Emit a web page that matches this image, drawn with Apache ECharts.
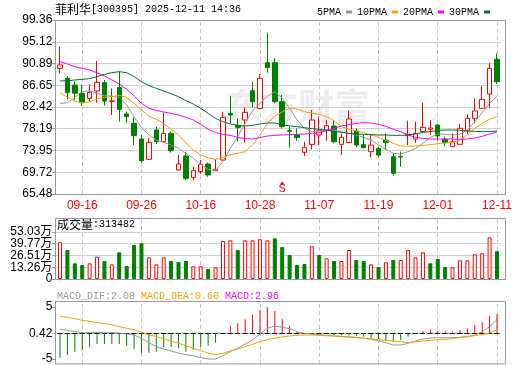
<!DOCTYPE html>
<html>
<head>
<meta charset="utf-8">
<title>菲利华 日K</title>
<script src="https://cdn.jsdelivr.net/npm/echarts@6.0.0/dist/echarts.min.js"></script>
<style>
html, body { margin: 0; padding: 0; background: #fff; }
#chart { width: 520px; height: 365px; }
</style>
</head>
<body>
<div id="chart"></div>
<script>
// trading days shown on the chart
const dates = [
  '09-11', '09-12', '09-15', '09-16', '09-17', '09-18', '09-19', '09-22', '09-23', '09-24',
  '09-25', '09-26', '09-29', '09-30', '10-09', '10-10', '10-13', '10-14', '10-15', '10-16',
  '10-17', '10-20', '10-21', '10-22', '10-23', '10-24', '10-27', '10-28', '10-29', '10-30',
  '10-31', '11-03', '11-04', '11-05', '11-06', '11-07', '11-10', '11-11', '11-12', '11-13',
  '11-14', '11-17', '11-18', '11-19', '11-20', '11-21', '11-24', '11-25', '11-26', '11-27',
  '11-28', '12-01', '12-02', '12-03', '12-04', '12-05', '12-08', '12-09', '12-10', '12-11'
]
const labelDates = ['09-16', '09-26', '10-16', '10-28', '11-07', '11-19', '12-01', '12-11']

const opens = [
  89.95, 88.00, 86.70, 85.08, 84.11, 85.53, 87.16, 83.50, 86.25, 81.06,
  79.24, 76.19, 72.23, 77.94, 75.67, 77.29, 70.15, 72.88, 68.72, 69.83,
  71.32, 70.02, 72.10, 81.19, 78.85, 79.89, 85.60, 82.16, 91.05, 91.05,
  83.46, 77.85, 76.97, 73.59, 75.15, 76.97, 77.94, 78.72, 75.15, 75.54,
  77.75, 75.09, 73.72, 74.37, 75.99, 72.75, 72.80, 76.84, 76.19, 77.62,
  78.07, 78.91, 76.12, 74.70, 75.15, 77.81, 80.21, 82.16, 84.95, 91.70
]
const closes = [
  90.60, 85.21, 85.10, 83.26, 85.27, 87.22, 83.59, 83.62, 81.96, 80.54,
  76.84, 71.97, 75.54, 75.67, 77.29, 73.92, 71.32, 68.53, 70.02, 71.26,
  69.18, 70.28, 80.41, 80.86, 78.46, 81.38, 83.46, 88.00, 90.08, 83.46,
  78.59, 77.70, 76.45, 74.57, 79.89, 77.81, 78.79, 75.67, 76.51, 80.08,
  75.02, 74.50, 75.02, 73.07, 75.47, 69.50, 72.68, 77.10, 77.29, 78.46,
  78.33, 76.77, 75.47, 75.67, 78.27, 80.21, 81.64, 83.91, 89.95, 87.35
]
const lows = [
  88.97, 83.91, 83.78, 82.61, 83.46, 83.26, 82.68, 80.86, 79.56, 79.24,
  75.02, 71.58, 72.10, 75.21, 75.54, 73.53, 70.02, 68.21, 68.08, 69.37,
  68.85, 70.02, 71.97, 79.24, 75.67, 75.47, 82.29, 81.96, 89.10, 83.13,
  78.27, 74.50, 75.86, 72.88, 74.18, 75.02, 75.86, 75.34, 73.07, 75.34,
  74.57, 74.37, 72.62, 72.62, 74.05, 69.05, 70.80, 75.02, 75.47, 77.42,
  76.97, 75.86, 74.83, 74.70, 75.02, 77.16, 79.24, 82.16, 82.16, 86.90
]
const highs = [
  94.17, 88.46, 87.35, 86.83, 86.83, 91.38, 87.68, 86.05, 89.30, 81.51,
  80.41, 76.97, 76.32, 78.59, 81.32, 77.62, 73.07, 73.72, 70.80, 72.10,
  71.58, 72.23, 81.51, 84.56, 80.21, 82.35, 87.35, 88.84, 96.89, 91.89,
  84.76, 78.59, 78.27, 75.67, 81.84, 80.54, 79.89, 79.89, 77.29, 81.71,
  78.27, 76.97, 76.97, 74.70, 77.29, 73.40, 73.72, 79.76, 79.56, 83.26,
  79.89, 79.11, 76.64, 77.29, 79.11, 80.99, 84.11, 86.51, 91.05, 92.87
]

const ma5 = [
  83.13, 83.26, 84.30, 85.40, 85.60, 85.08, 84.63, 84.56, 84.30, 82.81,
  80.54, 78.46, 76.97, 75.99, 75.54, 75.02, 74.37, 73.40, 72.42, 71.32,
  70.28, 70.02, 71.78, 74.37, 76.64, 79.24, 81.71, 83.13, 84.56, 85.40,
  84.11, 82.16, 79.89, 78.27, 77.62, 77.75, 77.94, 77.94, 77.62, 77.29,
  76.97, 76.51, 75.99, 75.02, 74.18, 73.40, 73.27, 73.72, 74.37, 75.35,
  76.51, 77.16, 77.10, 76.97, 77.10, 77.94, 79.56, 81.32, 83.13, 84.56
]
const ma10 = [
  85.21, 84.30, 83.59, 83.26, 83.39, 83.98, 84.30, 84.43, 84.69, 84.30,
  83.13, 81.84, 80.67, 80.02, 79.24, 78.07, 76.97, 75.47, 74.05, 73.07,
  72.55, 72.23, 72.62, 73.14, 73.40, 73.72, 75.02, 76.97, 79.24, 80.54,
  81.51, 82.16, 82.03, 81.51, 81.19, 80.99, 80.54, 79.76, 78.59, 78.14,
  77.75, 77.42, 76.97, 76.51, 75.93, 75.35, 74.83, 74.76, 74.83, 74.96,
  75.09, 75.28, 75.41, 75.54, 75.99, 76.97, 78.27, 79.24, 80.02, 80.54
]
const ma20 = [
  91.25, 90.79, 90.27, 89.95, 89.62, 89.10, 88.46, 87.68, 86.90, 85.86,
  84.56, 83.13, 82.16, 81.77, 81.45, 81.19, 80.86, 80.41, 79.89, 79.04,
  78.07, 77.42, 77.10, 76.90, 76.51, 76.25, 76.19, 76.45, 76.77, 76.90,
  76.97, 77.03, 77.10, 77.16, 77.29, 77.42, 77.81, 78.27, 78.72, 78.98,
  79.24, 79.37, 79.30, 79.04, 78.66, 78.07, 77.62, 76.97, 76.51, 76.32,
  76.19, 76.19, 76.19, 76.19, 76.12, 76.19, 76.38, 76.71, 77.16, 77.55
]
const ma30 = [
  87.48, 87.55, 87.68, 87.81, 87.94, 88.33, 88.78, 89.10, 89.30, 89.10,
  88.33, 87.35, 86.57, 86.05, 85.53, 85.02, 84.43, 83.65, 83.00, 82.16,
  81.19, 80.21, 79.56, 79.11, 78.85, 78.72, 78.85, 79.11, 79.30, 79.30,
  78.98, 78.72, 78.59, 78.40, 78.20, 78.07, 77.88, 77.68, 77.49, 77.29,
  77.16, 77.10, 77.03, 76.97, 76.97, 76.90, 76.90, 76.97, 77.16, 77.49,
  77.62, 77.88, 77.94, 77.94, 77.88, 77.75, 77.68, 77.62, 77.62, 77.75
]

// volume in 万
const volumes = [
  41.4, 32.7, 17.7, 15.8, 17.7, 25.2, 20.3, 16.5, 30.1, 14.7,
  38.4, 40.2, 24.4, 16.5, 24.4, 20.3, 19.2, 20.3, 14.3, 14.3,
  11.3, 13.2, 42.9, 43.6, 32.7, 43.6, 43.6, 44.8, 43.6, 45.9,
  36.1, 27.1, 15.8, 16.9, 36.9, 27.1, 23.3, 20.3, 20.3, 32.7,
  21.4, 20.3, 16.5, 13.5, 18.8, 21.4, 21.4, 32.7, 24.4, 30.1,
  17.7, 22.6, 13.5, 13.2, 21.1, 21.1, 27.8, 29.0, 47.0, 31.35
]

const dif = [
  0.62, 0.46, 0.26, 0.10, 0.10, 0.15, 0.10, 0.10, 0.05, -0.10,
  -0.26, -0.77, -1.44, -2.05, -2.41, -2.72, -3.03, -3.28, -3.49, -3.74,
  -3.95, -3.95, -3.44, -2.82, -2.31, -1.64, -1.03, -0.10, 0.77, 1.13,
  0.92, 0.72, 0.26, 0.00, -0.10, -0.21, -0.31, -0.41, -0.51, -0.56,
  -0.62, -0.77, -0.92, -1.13, -1.44, -1.79, -1.79, -1.54, -1.18, -0.87,
  -0.72, -0.67, -0.67, -0.67, -0.62, -0.51, -0.26, 0.26, 1.03, 2.08
]
const dea = [
  2.67, 2.46, 2.26, 2.00, 1.85, 1.64, 1.49, 1.33, 1.03, 0.77,
  0.56, 0.15, -0.21, -0.51, -0.82, -1.23, -1.54, -1.90, -2.31, -2.67,
  -3.03, -3.28, -3.08, -2.72, -2.41, -2.05, -1.69, -1.28, -0.97, -0.77,
  -0.56, -0.41, -0.31, -0.26, -0.26, -0.31, -0.36, -0.41, -0.46, -0.56,
  -0.67, -0.77, -0.82, -0.97, -1.08, -1.18, -1.28, -1.44, -1.28, -1.18,
  -1.08, -0.97, -0.92, -0.82, -0.67, -0.51, -0.36, -0.21, 0.05, 0.60
]
const macd = [
  -3.74, -3.33, -2.82, -2.56, -2.15, -1.64, -1.64, -1.64, -1.64, -1.95,
  -2.41, -3.08, -2.97, -2.82, -2.15, -2.15, -2.31, -2.82, -2.56, -2.05,
  -1.90, -1.44, 0.05, 1.18, 1.54, 2.15, 2.87, 3.59, 4.00, 3.44,
  2.21, 1.18, 0.26, -0.05, -0.08, -0.15, -0.15, -0.25, -0.30, -0.30,
  -0.40, -0.51, -0.77, -0.92, -1.13, -1.28, -1.03, -0.51, -0.08, 0.41,
  0.62, 0.41, 0.41, 0.26, 0.51, 0.77, 1.28, 1.69, 2.67, 2.96
]

// axis ticks
const priceTicks = [65.48, 69.72, 73.95, 78.19, 82.42, 86.65, 90.89, 95.12, 99.36]
const volTicks = [0, 13.26, 26.51, 39.77, 53.03]
const volTickLabels = ['0', '13.26万', '26.51万', '39.77万', '53.03万']
const macdTicks = [-3.95, 0, 4.05]
const macdTickLabels = ['-5', '0.42', '5']

const signalDate = '10-31'

const UP = '#ff0000'
const DOWN = '#008000'
const SANS = 'Liberation Sans, Noto Sans CJK SC, sans-serif'
const MONO = 'Liberation Mono, Noto Sans CJK SC, monospace'
const CJK = 'Noto Sans CJK SC, sans-serif'

const chart = echarts.init(document.getElementById('chart'))

const candles = dates.map((d, i) => [opens[i], closes[i], lows[i], highs[i]])
const volData = volumes.map((v, i) => {
  const up = i === 0 || closes[i] >= closes[i - 1]
  return {
    value: v,
    itemStyle: up
      ? { color: '#ffffff', borderColor: UP, borderWidth: 1 }
      : { color: DOWN, borderColor: DOWN, borderWidth: 1 }
  }
})
const macdData = macd.map(v => ({ value: v, itemStyle: { color: v >= 0 ? UP : DOWN } }))

const dateLines = labelDates.map(d => ({
  xAxis: d, lineStyle: { color: '#c8c8c8', type: [4, 3], width: 1 }
}))
const rowLines = vals => vals.map(v => ({
  yAxis: v, lineStyle: { color: '#d2d2d2', type: 'solid', width: 1 }
}))
function gridMarks(extra) {
  return {
    silent: true,
    symbol: 'none',
    z: 1,
    animation: false,
    label: { show: false },
    emphasis: { disabled: true },
    data: dateLines.concat(extra)
  }
}

function catAxis(idx, showLabel) {
  return {
    type: 'category',
    gridIndex: idx,
    data: dates,
    boundaryGap: true,
    axisLine: { show: false },
    axisTick: { show: false },
    splitLine: { show: false },
    axisLabel: {
      show: showLabel,
      interval: (i, v) => labelDates.includes(v),
      color: UP,
      fontSize: 12,
      fontFamily: SANS,
      margin: 6
    }
  }
}
function valAxis(idx, min, max, ticks, fmt) {
  return {
    type: 'value',
    gridIndex: idx,
    position: 'left',
    min: min,
    max: max,
    offset: 1,
    axisLine: { show: false },
    splitLine: { show: false },
    axisTick: { show: true, length: 3, lineStyle: { color: '#999' }, customValues: ticks },
    axisLabel: {
      customValues: ticks,
      formatter: fmt,
      hideOverlap: false,
      color: '#000',
      fontSize: 12,
      fontFamily: SANS,
      margin: 3
    }
  }
}
function maLine(name, data, color) {
  return {
    name: name,
    type: 'line',
    xAxisIndex: 0,
    yAxisIndex: 0,
    data: data,
    symbol: 'none',
    z: 3,
    lineStyle: { width: 1, color: color },
    itemStyle: { color: color }
  }
}

// the volume labels sit too close for one axis, so they are split over two
// overlapping axes on the same grid
const volFmt = v => volTickLabels[volTicks.indexOf(v)]
const volTicksA = volTicks.filter((v, i) => i % 2 === 0)
const volTicksB = volTicks.filter((v, i) => i % 2 === 1)

chart.setOption({
  animation: false,
  backgroundColor: '#ffffff',
  legend: {
    data: ['5PMA', '10PMA', '20PMA', '30PMA'],
    right: 25,
    top: 2,
    align: 'right',
    icon: 'rect',
    itemWidth: 6,
    itemHeight: 3,
    itemGap: 5,
    selectedMode: false,
    textStyle: { fontFamily: MONO, fontSize: 10, color: '#000' }
  },
  grid: [
    { left: 56.3, top: 20, width: 444.4, height: 174, outerBoundsMode: 'none' },
    { left: 56.3, top: 218, width: 444.4, height: 61, outerBoundsMode: 'none' },
    { left: 56.3, top: 302, width: 444.4, height: 62, outerBoundsMode: 'none' }
  ],
  xAxis: [catAxis(0, true), catAxis(1, false), catAxis(2, false)],
  yAxis: [
    valAxis(0, 65.48, 99.36, priceTicks, v => priceTicks.reduce((a, b) => Math.abs(b - v) < Math.abs(a - v) ? b : a).toFixed(2)),
    valAxis(1, 0, 68.8, volTicksA, volFmt),
    valAxis(2, -4.72, 4.82, macdTicks, v => macdTickLabels[macdTicks.indexOf(v)]),
    valAxis(1, 0, 68.8, volTicksB, volFmt)
  ],
  graphic: [
    {
      type: 'text', x: 226, y: 106, z: 0, silent: true,
      style: { text: '东方财富', font: 'bold 36px ' + CJK, fill: '#ededed', verticalAlign: 'middle' }
    },
    {
      type: 'text', x: 55, y: 9, z: 10, silent: true,
      style: {
        text: '{a|菲利华}{b|[300395] 2025-12-11 14:36}',
        verticalAlign: 'middle',
        rich: {
          a: { font: '12px ' + CJK, fill: '#000' },
          b: { font: '10px ' + MONO, fill: '#000' }
        }
      }
    },
    {
      type: 'text', x: 57, y: 224, z: 10, silent: true,
      style: {
        text: '{a|成交量}{b|:313482}',
        verticalAlign: 'middle',
        rich: {
          a: { font: '12px ' + CJK, fill: '#000' },
          b: { font: '10px ' + MONO, fill: '#000' }
        }
      }
    },
    {
      type: 'text', x: 57, y: 296, z: 10, silent: true,
      style: {
        text: '{d|MACD_DIF:2.08 }{e|MACD_DEA:0.60 }{f|MACD:2.96}',
        verticalAlign: 'middle',
        rich: {
          d: { font: '10px ' + MONO, fill: '#999999' },
          e: { font: '10px ' + MONO, fill: '#f5a200' },
          f: { font: '10px ' + MONO, fill: '#ff00ff' }
        }
      }
    },
    { type: 'rect', z: 10, silent: true, shape: { x: 55.5, y: 20.5, width: 450, height: 174 }, style: { fill: 'none', stroke: '#999', lineWidth: 1 } },
    { type: 'rect', z: 10, silent: true, shape: { x: 55.5, y: 218.5, width: 450, height: 61 }, style: { fill: 'none', stroke: '#999', lineWidth: 1 } },
    { type: 'rect', z: 10, silent: true, shape: { x: 55.5, y: 301.5, width: 450, height: 62.5 }, style: { fill: 'none', stroke: '#999', lineWidth: 1 } }
  ],
  series: [
    {
      name: 'K',
      type: 'candlestick',
      xAxisIndex: 0,
      yAxisIndex: 0,
      data: candles,
      barWidth: 5,
      z: 2,
      itemStyle: { color: '#ffffff', color0: DOWN, borderColor: UP, borderColor0: DOWN, borderWidth: 1 },
      markLine: gridMarks(rowLines(priceTicks.slice(1, -1))),
      markPoint: {
        silent: true,
        z: 4,
        animation: false,
        data: [
          {
            coord: [signalDate, 66.45], symbol: 'circle', symbolSize: 1,
            itemStyle: { color: 'rgba(0,0,0,0)' },
            label: { show: true, formatter: 'S', position: 'inside', color: UP, fontSize: 11, fontFamily: SANS }
          },
          {
            coord: [signalDate, 67.62], symbol: 'triangle', symbolSize: [5, 3],
            itemStyle: { color: UP }, label: { show: false }
          }
        ]
      }
    },
    maLine('5PMA', ma5, '#999999'),
    maLine('10PMA', ma10, '#f5a200'),
    maLine('20PMA', ma20, '#ff00ff'),
    maLine('30PMA', ma30, '#00703c'),
    {
      name: '成交量',
      type: 'bar',
      xAxisIndex: 1,
      yAxisIndex: 1,
      data: volData,
      barWidth: 4,
      z: 2,
      markLine: gridMarks(rowLines(volTicks.slice(1)))
    },
    {
      name: 'MACD',
      type: 'bar',
      xAxisIndex: 2,
      yAxisIndex: 2,
      data: macdData,
      barWidth: 1,
      z: 2,
      markLine: gridMarks([
        { yAxis: 0, lineStyle: { color: '#b0b0b0', type: 'solid', width: 1 } },
        { yAxis: 0, lineStyle: { color: '#000000', type: [5, 2.4], dashOffset: 6.2, width: 1 } }
      ])
    },
    {
      name: 'MACD_DIF',
      type: 'line',
      xAxisIndex: 2,
      yAxisIndex: 2,
      data: dif,
      symbol: 'none',
      z: 3,
      lineStyle: { width: 1, color: '#999999' }
    },
    {
      name: 'MACD_DEA',
      type: 'line',
      xAxisIndex: 2,
      yAxisIndex: 2,
      data: dea,
      symbol: 'none',
      z: 3,
      lineStyle: { width: 1, color: '#f5a200' }
    }
  ]
})
</script>
</body>
</html>
